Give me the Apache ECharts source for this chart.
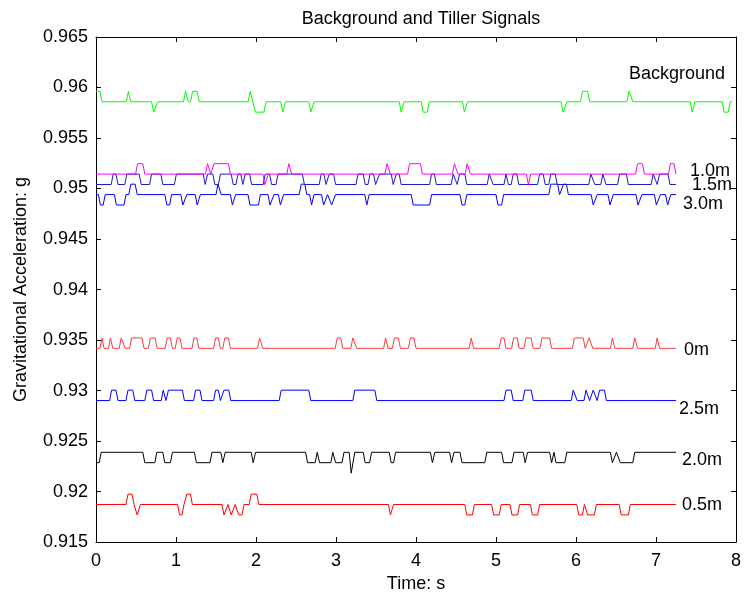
<!DOCTYPE html>
<html>
<head>
<meta charset="utf-8">
<script src="https://cdn.jsdelivr.net/npm/echarts@6/dist/echarts.min.js"></script>
<style>html,body{margin:0;padding:0;background:#fff;}#c{width:744px;height:598px;}</style>
</head>
<body>
<div id="c"></div>
<script>
// ---- data ----
// Each signal: list of [time (s), level]; level is a count of quantisation steps above the base value.
const xTicks = [0, 1, 2, 3, 4, 5, 6, 7, 8];
const yTicks = [0.915, 0.92, 0.925, 0.93, 0.935, 0.94, 0.945, 0.95, 0.955, 0.96, 0.965];
const seriesNames = ['Background', '1.0m', '1.5m', '3.0m', '0m', '2.5m', '2.0m', '0.5m'];
const baseValues = [0.95859, 0.95143, 0.9504, 0.9494, 0.93418, 0.92901, 0.92389, 0.91872];
const endTimes = [7.95, 7.25, 7.25, 7.25, 7.25, 7.25, 7.25, 7.25];
const stepSize = 0.00103;   // signal quantisation, g
const rampTime = 0.025;     // one sample interval, s

const background = [[0,1],[0.05,0],[0.38,1],[0.41,0],[0.695,-1],[0.745,0],[1.094,1],[1.128,0],[1.182,1],[1.265,0],[1.902,1],[1.935,0],[1.968,-1],[2.10,0],[2.31,-1],[2.343,0],[2.66,-1],[2.70,0],[3.79,-1],[3.824,0],[4.065,-1],[4.14,0],[4.58,-1],[4.62,0],[5.813,-1],[5.863,0],[6.055,1],[6.146,0],[6.637,1],[6.687,0],[7.428,-1],[7.46,0],[7.827,-1],[7.902,0]];
const tiller10 = [[0,0],[0.495,1],[0.585,0],[1.369,1],[1.41,0],[1.45,1],[1.655,0],[2.085,-1],[2.13,0],[2.385,1],[2.42,0],[3.612,1],[3.655,0],[3.895,1],[4.055,0],[4.455,1],[4.50,0],[4.615,1],[4.655,0],[5.38,-1],[5.41,0],[6.745,1],[6.83,0],[7.155,1],[7.225,0]];
const tiller15 = [[0,0],[0.19,1],[0.25,0],[0.36,1],[0.54,0],[0.67,1],[0.81,0],[0.98,1],[1.34,0],[1.37,1],[1.46,0],[1.53,1],[1.69,0],[1.75,1],[1.81,0],[1.84,1],[1.92,0],[2.09,1],[2.17,0],[2.25,1],[2.58,0],[2.79,1],[2.85,0],[2.89,1],[2.97,0],[3.25,1],[3.34,0],[3.40,1],[3.47,0],[3.52,1],[3.69,0],[3.73,1],[3.79,0],[4.17,1],[4.23,0],[4.44,1],[4.49,0],[4.52,1],[4.61,0],[4.89,1],[4.94,0],[5.10,1],[5.13,0],[5.19,1],[5.26,0],[5.52,1],[5.59,0],[5.66,1],[5.74,0],[6.16,1],[6.21,0],[6.31,1],[6.35,0],[6.52,1],[6.63,0],[6.94,1],[6.99,0],[7.02,1],[7.15,0]];
const tiller30 = [[0,0],[0.03,-1],[0.09,0],[0.23,-1],[0.35,0],[0.41,1],[0.49,0],[0.86,-1],[0.92,0],[1.06,-1],[1.11,0],[1.24,-1],[1.28,0],[1.50,1],[1.54,0],[1.68,-1],[1.72,0],[1.90,-1],[2.03,0],[2.15,-1],[2.20,0],[2.28,-1],[2.32,0],[2.54,1],[2.61,0],[2.67,-1],[2.70,0],[2.82,-1],[2.87,0],[2.92,-1],[2.97,0],[3.36,-1],[3.39,0],[3.94,-1],[4.17,0],[4.55,-1],[4.61,0],[5.00,-1],[5.07,0],[5.66,1],[5.77,0],[5.82,1],[5.88,0],[6.19,-1],[6.24,0],[6.40,-1],[6.44,0],[6.75,-1],[6.80,0],[6.98,-1],[7.03,0],[7.12,-1],[7.16,0]];
const tiller00 = [[0,0],[0.05,1],[0.075,0],[0.155,1],[0.185,0],[0.29,1],[0.34,0],[0.42,1],[0.575,0],[0.655,1],[0.74,0],[0.865,1],[0.93,0],[0.99,1],[1.05,0],[1.2,1],[1.26,0],[1.47,1],[1.53,0],[1.585,1],[1.655,0],[2.02,1],[2.06,0],[2.99,1],[3.06,0],[3.185,1],[3.235,0],[3.595,1],[3.625,0],[3.705,1],[3.78,0],[3.905,1],[3.975,0],[4.665,1],[4.695,0],[5.04,1],[5.1,0],[5.195,1],[5.265,0],[5.35,1],[5.44,0],[5.55,1],[5.67,0],[5.955,1],[6.09,0],[6.14,1],[6.185,0],[6.43,1],[6.46,0],[6.71,1],[6.745,0],[6.99,1],[7.02,0]];
const tiller25 = [[0,0],[0.17,1],[0.25,0],[0.375,1],[0.46,0],[0.61,1],[0.695,0],[0.815,1],[0.85,0],[0.88,1],[1.08,0],[1.22,1],[1.30,0],[1.47,1],[1.53,0],[1.575,1],[1.66,0],[2.29,1],[2.66,0],[3.21,1],[3.485,0],[5.10,1],[5.19,0],[5.335,1],[5.44,0],[5.94,1],[5.99,0],[6.10,1],[6.145,0],[6.19,1],[6.24,0],[6.27,1],[6.355,0]];
const tiller20 = [[0,-1],[0.04,0],[0.585,-1],[0.735,0],[0.835,-1],[0.93,0],[1.23,-1],[1.425,0],[1.56,-1],[1.59,0],[1.94,-1],[1.97,0],[2.62,-1],[2.74,0],[2.77,-1],[2.935,0],[2.97,-1],[3.075,0],[3.165,-2],[3.21,0],[3.34,-1],[3.42,0],[3.665,-1],[3.72,0],[4.18,-1],[4.21,0],[4.42,-1],[4.45,0],[4.55,-1],[4.86,0],[5.07,-1],[5.20,0],[5.34,-1],[5.37,0],[5.67,-1],[5.70,0],[5.725,-1],[5.86,0],[6.43,-1],[6.48,0],[6.53,-1],[6.71,0]];
const tiller05 = [[0,0],[0.375,1],[0.45,0],[0.49,-1],[0.53,0],[1.02,-1],[1.075,0],[1.11,1],[1.18,0],[1.575,-1],[1.625,0],[1.665,-1],[1.715,0],[1.76,-1],[1.825,0],[1.915,1],[2.01,0],[3.655,-1],[3.695,0],[4.61,-1],[4.705,0],[4.945,-1],[5.04,0],[5.175,-1],[5.27,0],[5.43,-1],[5.52,0],[6.01,-1],[6.08,0],[6.12,-1],[6.23,0],[6.54,-1],[6.655,0]];

const signalSteps = [background, tiller10, tiller15, tiller30, tiller00, tiller25, tiller20, tiller05];

// ---- styles ----
const colors = ['#00ff00', '#ff00ff', '#1a1ad0', '#0000ff', '#ff3b3b', '#0000ff', '#000000', '#ff0000'];
const labelOffsets = [[-103, -28], [14, -3], [16, 1], [7, 9], [8, 2], [3, 8], [6, 8], [6, 1]];
const FONT = '"Liberation Sans", Arial, Helvetica, sans-serif';

// Convert a step description into polyline vertices (each level change spans one sample).
function buildLine(base, steps, endT) {
  const pts = [];
  let lvl = steps[0][1];
  pts.push([steps[0][0], base + lvl * stepSize]);
  for (let i = 1; i < steps.length; i++) {
    const t = steps[i][0], l = steps[i][1];
    pts.push([t, base + lvl * stepSize]);
    pts.push([t + rampTime, base + l * stepSize]);
    lvl = l;
  }
  pts.push([endT, base + lvl * stepSize]);
  return pts;
}

const series = seriesNames.map((name, i) => ({
  name: name,
  type: 'line',
  xAxisIndex: 0,
  yAxisIndex: 0,
  data: buildLine(baseValues[i], signalSteps[i], endTimes[i]),
  showSymbol: false,
  symbol: 'none',
  silent: true,
  animation: false,
  lineStyle: { color: colors[i], width: 1 },
  itemStyle: { color: colors[i] },
  endLabel: {
    show: true,
    formatter: '{a}',
    distance: 0,
    offset: labelOffsets[i],
    color: '#000',
    fontFamily: FONT,
    fontSize: 18
  },
  z: 10 - i
}));

const axisCommon = {
  axisLine: { show: true, onZero: false, lineStyle: { color: '#000', width: 1 } },
  axisTick: { show: true, inside: true, length: 5, lineStyle: { color: '#000' } },
  splitLine: { show: false },
  minorTick: { show: false }
};

const fmtY = v => String(Number(v.toFixed(3)));

const chart = echarts.init(document.getElementById('c'), null, { renderer: 'canvas' });
chart.setOption({
  animation: false,
  backgroundColor: '#fff',
  title: {
    text: 'Background and Tiller Signals',
    left: 416, top: 5, textAlign: 'center',
    textStyle: { fontFamily: FONT, fontSize: 18, fontWeight: 'normal', color: '#000' }
  },
  grid: { left: 96, right: 7, top: 37, bottom: 55, containLabel: false },
  xAxis: [
    Object.assign({}, axisCommon, {
      type: 'value', min: xTicks[0], max: xTicks[xTicks.length - 1], interval: 1, position: 'bottom',
      name: 'Time: s', nameLocation: 'middle', nameGap: 29,
      nameTextStyle: { fontFamily: FONT, fontSize: 18, color: '#000' },
      axisLabel: { show: true, margin: 10, fontFamily: FONT, fontSize: 18, color: '#000', formatter: v => String(v) }
    }),
    Object.assign({}, axisCommon, {
      type: 'value', min: xTicks[0], max: xTicks[xTicks.length - 1], interval: 1, position: 'top',
      axisLabel: { show: false }
    })
  ],
  yAxis: [
    Object.assign({}, axisCommon, {
      type: 'value', min: yTicks[0], max: yTicks[yTicks.length - 1], interval: 0.005, position: 'left',
      name: 'Gravitational Acceleration: g', nameLocation: 'middle', nameGap: 66,
      nameTextStyle: { fontFamily: FONT, fontSize: 18, color: '#000' },
      axisLabel: { show: true, margin: 8, fontFamily: FONT, fontSize: 18, color: '#000', formatter: fmtY }
    }),
    Object.assign({}, axisCommon, {
      type: 'value', min: yTicks[0], max: yTicks[yTicks.length - 1], interval: 0.005, position: 'right',
      axisLabel: { show: false }
    })
  ],
  series: series
});
</script>
</body>
</html>
